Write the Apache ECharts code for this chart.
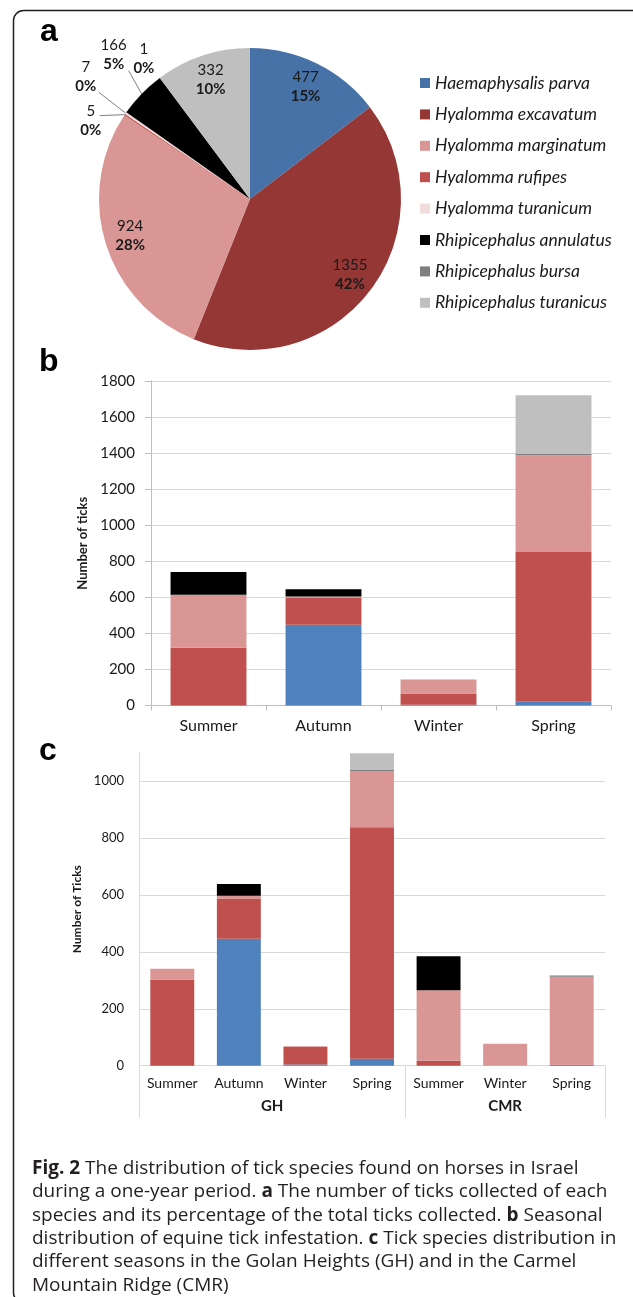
<!DOCTYPE html>
<html>
<head>
<meta charset="utf-8">
<script src="https://cdn.jsdelivr.net/npm/echarts@6/dist/echarts.min.js"></script>
<style>
  html, body { margin: 0; padding: 0; background: #ffffff; }
  #main { width: 633px; height: 1297px; }
</style>
</head>
<body>
<div id="main"></div>
<script>
// ---- Panel a: ticks collected per species ----
const species = [
  'Haemaphysalis parva', 'Hyalomma excavatum', 'Hyalomma marginatum', 'Hyalomma rufipes',
  'Hyalomma turanicum', 'Rhipicephalus annulatus', 'Rhipicephalus bursa', 'Rhipicephalus turanicus'
];
const speciesTotals = [477, 1355, 924, 5, 7, 166, 1, 332];
const pieColors = ['#4672a8', '#953735', '#d99694', '#c0504d', '#f2dcdb', '#000000', '#7f7f7f', '#bfbfbf'];

// ---- Panel b: seasonal counts (stack order bottom to top) ----
const seasons = ['Summer', 'Autumn', 'Winter', 'Spring'];
const seasonParva      = [0, 448, 4, 24];
const seasonExcavatum  = [320, 148, 62, 827];
const seasonMarginatum = [295, 8, 78, 537];
const seasonTuranicum  = [0, 0, 0, 8];
const seasonAnnulatus  = [126, 41, 0, 0];
const seasonTuranicus  = [0, 0, 0, 325];

// ---- Panel c: counts per season in each region ----
const regionSeasons = ['Summer', 'Autumn', 'Winter', 'Spring', 'Summer', 'Winter', 'Spring'];
const regions = ['GH', 'CMR'];
const regionSizes = [4, 3];
const regionParva      = [0, 446, 4, 24, 0, 0, 0];
const regionExcavatum  = [302, 142, 62, 814, 17, 0, 4];
const regionMarginatum = [39, 9, 2, 196, 248, 77, 309];
const regionTuranicum  = [0, 0, 0, 5, 0, 0, 4];
const regionAnnulatus  = [0, 42, 0, 0, 120, 0, 0];
const regionTuranicus  = [0, 0, 0, 59, 0, 0, 0];

// tick labels
const seasonTicks = [0, 200, 400, 600, 800, 1000, 1200, 1400, 1600, 1800];
const regionTicks = [0, 200, 400, 600, 800, 1000];

const caption = [
  '{b|Fig. 2} The distribution of tick species found on horses in Israel',
  'during a one-year period. {b|a} The number of ticks collected of each',
  'species and its percentage of the total ticks collected. {b|b} Seasonal',
  'distribution of equine tick infestation. {b|c} Tick species distribution in',
  'different seasons in the Golan Heights (GH) and in the Carmel',
  'Mountain Ridge (CMR)'
];

const FONT = 'Lato, "Open Sans", sans-serif';
const barColors = {
  parva: '#4f81bd', excavatum: '#c0504d', marginatum: '#d99694',
  turanicum: '#7f7f7f', annulatus: '#000000', turanicus: '#bfbfbf'
};

const chart = echarts.init(document.getElementById('main'), null, { renderer: 'canvas' });

// pie slices with their labels drawn outside, moved relative to the slice edge point
const outsideLabels = {
  3: { line: [-25, 1], text: [-34, 6] },
  4: { line: [-27, -21], text: [-40, -37] },
  5: { line: [-13, -23], text: [-28, -39] },
  6: { line: [0, 0], text: [-16, -19] }
};
const insideLabelIdx = [0, 1, 2, 7];

const pieRich = {
  n: { fontFamily: FONT, fontSize: 15, color: '#1a1a1a', lineHeight: 19 },
  p: { fontFamily: FONT, fontSize: 15, fontWeight: 'bold', color: '#1a1a1a', lineHeight: 19 }
};

const mainPieData = species.map((name, i) => ({
  name, value: speciesTotals[i],
  itemStyle: { color: pieColors[i] },
  label: { show: outsideLabels[i] !== undefined },
  labelLine: { show: outsideLabels[i] !== undefined }
}));
const labelPieData = species.map((name, i) => ({
  name, value: speciesTotals[i],
  label: { show: insideLabelIdx.indexOf(i) >= 0 }
}));

function barSeries(prefix, stack, xi, yi, layers) {
  return layers.map(l => ({
    type: 'bar', name: prefix + l.name, stack, xAxisIndex: xi, yAxisIndex: yi,
    data: l.data, barCategoryGap: '34%', itemStyle: { color: l.color },
    silent: true
  }));
}

const seasonSeries = barSeries('Season: ', 'season', 0, 0, [
  { name: species[0], data: seasonParva, color: barColors.parva },
  { name: species[1], data: seasonExcavatum, color: barColors.excavatum },
  { name: species[2], data: seasonMarginatum, color: barColors.marginatum },
  { name: species[4], data: seasonTuranicum, color: barColors.turanicum },
  { name: species[5], data: seasonAnnulatus, color: barColors.annulatus },
  { name: species[7], data: seasonTuranicus, color: barColors.turanicus }
]);
const regionSeries = barSeries('Region: ', 'region', 1, 1, [
  { name: species[0], data: regionParva, color: barColors.parva },
  { name: species[1], data: regionExcavatum, color: barColors.excavatum },
  { name: species[2], data: regionMarginatum, color: barColors.marginatum },
  { name: species[4], data: regionTuranicum, color: barColors.turanicum },
  { name: species[5], data: regionAnnulatus, color: barColors.annulatus },
  { name: species[7], data: regionTuranicus, color: barColors.turanicus }
]);

// group boundaries and centres along the regional category axis
const regionBounds = [0];
const regionCentres = [];
regionSizes.forEach((n) => {
  const start = regionBounds[regionBounds.length - 1];
  regionBounds.push(start + n);
  regionCentres.push(start + n / 2);
});

const axisGrey = '#bfbfbf';
const gridGrey = '#d9d9d9';
const letterFont = 'bold 32px "Liberation Sans", Arial, sans-serif';

const option = {
  backgroundColor: '#ffffff',
  animation: false,
  textStyle: { fontFamily: FONT },
  legend: {
    orient: 'vertical', left: 420, top: 74, padding: 0,
    itemWidth: 10, itemHeight: 10, itemGap: 13.4,
    icon: 'rect', selectedMode: false,
    data: species,
    textStyle: { fontFamily: FONT, fontStyle: 'italic', fontSize: 17.5, lineHeight: 16, color: '#1a1a1a' }
  },
  grid: [
    { left: 151, top: 381, width: 460, height: 324.5 },
    { left: 139, top: 752.7, width: 466, height: 313 }
  ],
  xAxis: [
    {
      type: 'category', gridIndex: 0, data: seasons,
      axisLine: { lineStyle: { color: axisGrey } },
      axisTick: { show: true, length: 5, lineStyle: { color: axisGrey } },
      axisLabel: { fontSize: 16, color: '#1a1a1a', margin: 12, fontFamily: FONT }
    },
    {
      type: 'category', gridIndex: 1, data: regionSeasons,
      axisLine: { lineStyle: { color: gridGrey } },
      axisTick: { show: false },
      axisLabel: { fontSize: 14, color: '#1a1a1a', margin: 11, fontFamily: FONT }
    },
    {
      type: 'value', gridIndex: 1, min: 0, max: regionSeasons.length, position: 'bottom',
      axisLine: { show: false },
      splitLine: { show: false },
      axisTick: { show: true, inside: false, length: 52, customValues: regionBounds, lineStyle: { color: gridGrey } },
      axisLabel: {
        show: true, customValues: regionCentres, margin: 33,
        fontSize: 15, fontWeight: 'bold', color: '#1a1a1a', fontFamily: FONT,
        formatter: v => regions[regionCentres.indexOf(v)] || ''
      }
    }
  ],
  yAxis: [
    {
      type: 'value', gridIndex: 0, min: seasonTicks[0], max: seasonTicks[seasonTicks.length - 1], interval: 200,
      name: 'Number of ticks', nameLocation: 'middle', nameGap: 57, nameRotate: 90,
      nameTextStyle: { fontSize: 13, fontWeight: 'bold', color: '#1a1a1a', fontFamily: FONT },
      axisLine: { show: true, lineStyle: { color: axisGrey } },
      axisTick: { show: true, length: 6, lineStyle: { color: axisGrey } },
      axisLabel: { fontSize: 15, color: '#1a1a1a', margin: 16, fontFamily: FONT,
        formatter: v => (seasonTicks.indexOf(v) >= 0 ? String(v) : '') },
      splitLine: { lineStyle: { color: gridGrey } }
    },
    {
      type: 'value', gridIndex: 1, min: regionTicks[0], max: 1100, interval: 200,
      name: 'Number of Ticks', nameLocation: 'middle', nameGap: 51, nameRotate: 90,
      nameTextStyle: { fontSize: 12, fontWeight: 'bold', color: '#1a1a1a', fontFamily: FONT },
      axisLine: { show: true, lineStyle: { color: gridGrey } },
      axisTick: { show: false },
      axisLabel: { fontSize: 13, color: '#1a1a1a', margin: 15, showMaxLabel: false, fontFamily: FONT,
        formatter: v => (regionTicks.indexOf(v) >= 0 ? String(v) : '') },
      splitLine: { lineStyle: { color: regionTicks.map(() => gridGrey).concat(['rgba(0,0,0,0)']) } }
    }
  ],
  graphic: [
    {
      type: 'rect', silent: true, z: 100,
      shape: { x: 13.5, y: 10.5, width: 660, height: 1292, r: 10 },
      style: { fill: 'none', stroke: '#231f20', lineWidth: 1.5 }
    },
    { type: 'text', silent: true, style: { x: 40, y: 16, text: 'a', font: letterFont, fill: '#000' } },
    { type: 'text', silent: true, style: { x: 39, y: 346, text: 'b', font: letterFont, fill: '#000' } },
    { type: 'text', silent: true, style: { x: 39, y: 735, text: 'c', font: letterFont, fill: '#000' } },
    {
      type: 'text', silent: true,
      style: {
        x: 32, y: 1157, verticalAlign: 'top',
        text: caption.join('\n'),
        font: '19px "Open Sans", sans-serif', lineHeight: 23.3, fill: '#231f20',
        rich: { b: { fontFamily: '"Open Sans", sans-serif', fontSize: 19, fontWeight: 'bold', lineHeight: 23.3, fill: '#231f20' } }
      }
    }
  ],
  series: [
    {
      type: 'pie', name: 'Tick species', center: [250, 199], radius: 151,
      startAngle: 90, clockwise: true, percentPrecision: 0,
      avoidLabelOverlap: false, silent: true,
      data: mainPieData,
      label: {
        position: 'outside', formatter: '{n|{c}}\n{p|{d}%}', rich: pieRich
      },
      labelLine: { length: 10, length2: 10, lineStyle: { color: '#7f7f7f', width: 1 } },
      labelLayout: function (p) {
        const o = outsideLabels[p.dataIndex];
        if (!o || !p.labelLinePoints) return {};
        const a = p.labelLinePoints[0];
        const end = [a[0] + o.line[0], a[1] + o.line[1]];
        return {
          x: a[0] + o.text[0], y: a[1] + o.text[1],
          align: 'center', verticalAlign: 'middle',
          labelLinePoints: [a, end, end]
        };
      }
    },
    {
      type: 'pie', name: 'Tick species labels', center: [250, 199], radius: [0, 245],
      startAngle: 90, clockwise: true, percentPrecision: 0, silent: true, z: 3,
      itemStyle: { color: 'rgba(0,0,0,0)' },
      data: labelPieData,
      label: { position: 'inside', formatter: '{n|{c}}\n{p|{d}%}', rich: pieRich },
      labelLine: { show: false }
    }
  ].concat(seasonSeries, regionSeries)
};

chart.setOption(option);
</script>
</body>
</html>
